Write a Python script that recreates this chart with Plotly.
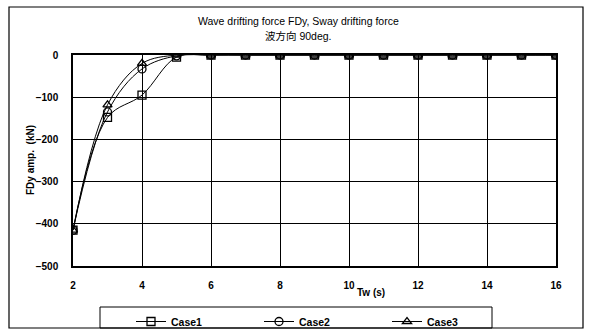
import plotly.graph_objects as go

tw = [2, 3, 4, 5, 6, 7, 8, 9, 10, 11, 12, 13, 14, 15, 16]
case1 = [-415, -148, -95, -5, 0, 0, 0, 0, 0, 0, 0, 0, 0, 0, 0]
case2 = [-415, -135, -33, -2, 0, 0, 0, 0, 0, 0, 0, 0, 0, 0, 0]
case3 = [-415, -118, -20, 0, 0, 0, 0, 0, 0, 0, 0, 0, 0, 0, 0]
names = ["Case1", "Case2", "Case3"]
symbols = ["square-open", "circle-open", "triangle-up-open"]
x_ticks = [2, 4, 6, 8, 10, 12, 14, 16]
y_ticks = [0, -100, -200, -300, -400, -500]

W, H = 600, 335
L, R, T, B = 73, 556, 55, 266
FONT = "Liberation Sans, Arial, Noto Sans CJK JP, sans-serif"

def px(x):
    return (x - L) / (R - L)

def py(y):
    return (B - y) / (B - T)

fig = go.Figure()
for name, vals, sym in zip(names, [case1, case2, case3], symbols):
    fig.add_trace(go.Scatter(
        x=tw, y=vals, name=name, mode="lines+markers",
        line=dict(color="black", width=1, shape="spline", smoothing=1),
        marker=dict(symbol=sym, size=8, color="black", line=dict(color="black", width=1.3)),
    ))

fig.update_layout(
    width=W, height=H,
    margin=dict(l=L, r=W - R, t=T, b=H - B, autoexpand=False),
    paper_bgcolor="white", plot_bgcolor="white",
    font=dict(family=FONT, color="black", size=11),
    showlegend=True,
    legend=dict(orientation="h", x=px(131), xanchor="left", y=py(307), yanchor="top",
                bgcolor="rgba(0,0,0,0)", borderwidth=0,
                font=dict(size=10.5, weight=700), entrywidth=83, entrywidthmode="pixels",
                itemclick=False),
    xaxis=dict(range=[2, 16], tickvals=x_ticks, showgrid=True, gridcolor="black", gridwidth=1,
               zeroline=False, showline=True, linecolor="black", linewidth=1.5, mirror=True,
               ticks="", tickfont=dict(size=10, weight=700), ticklabelstandoff=9),
    yaxis=dict(range=[-500, 0], tickvals=y_ticks, showgrid=True, gridcolor="black", gridwidth=1,
               zeroline=False, showline=True, linecolor="black", linewidth=1.5, mirror=True,
               ticks="", tickfont=dict(size=10, weight=700), ticklabelstandoff=11),
)

annotations = [
    dict(text="Wave drifting force FDy, Sway drifting force", x=px(298), y=py(21),
         font=dict(size=10.5)),
    dict(text="波方向 90deg.", x=px(298), y=py(36), font=dict(size=10.5)),
    dict(text="Tw (s)", x=px(371), y=py(292), font=dict(size=10, weight=700)),
    dict(text="FDy amp.  (kN)", x=px(30), y=py(160), textangle=-90, font=dict(size=10, weight=700)),
]
for a in annotations:
    fig.add_annotation(xref="paper", yref="paper", showarrow=False,
                       xanchor="center", yanchor="middle", **a)

# outer chart frame and legend box
fig.add_shape(type="rect", xref="paper", yref="paper",
              x0=px(9), x1=px(583), y0=py(7), y1=py(328),
              line=dict(color="black", width=1.2), layer="below")
fig.add_shape(type="rect", xref="paper", yref="paper",
              x0=px(100), x1=px(492), y0=py(307), y1=py(328),
              line=dict(color="black", width=1), layer="below")

fig.write_html("out.html")
